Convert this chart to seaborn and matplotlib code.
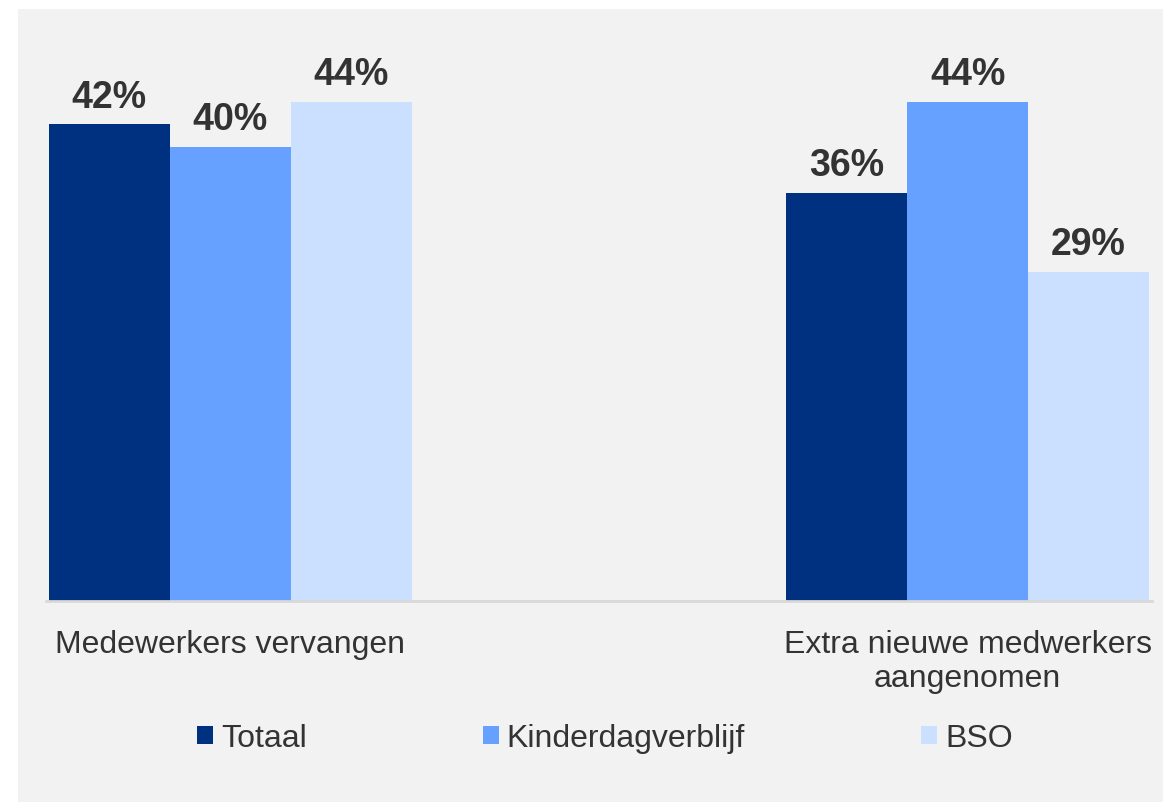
import pandas as pd
import matplotlib.pyplot as plt
import seaborn as sns
from matplotlib.patches import Patch, Rectangle

categories = ["Medewerkers vervangen", "Extra nieuwe medwerkers\naangenomen"]
series = ["Totaal", "Kinderdagverblijf", "BSO"]
totaal = [42, 36]
kinderdagverblijf = [40, 44]
bso = [44, 29]
colors = ["#003080", "#66a1ff", "#cbdfff"]

TEXT = "#333333"
BG = "#f2f2f2"

df = pd.DataFrame({
    "categorie": categories * 3,
    "groep": [s for s in series for _ in categories],
    "waarde": totaal + kinderdagverblijf + bso,
})

sns.set_theme(style="white")
plt.rcParams["font.family"] = ["Liberation Sans", "DejaVu Sans"]

W, H = 1163, 803
fig = plt.figure(figsize=(W / 100, H / 100), dpi=100, facecolor="white")
# grey panel behind the chart
fig.patches.append(Rectangle((18 / W, 0), 1 - 18 / W, 1 - 10 / H,
                             transform=fig.transFigure, facecolor=BG,
                             edgecolor="none", zorder=-5))

ax = fig.add_axes([46 / W, (H - 602) / H, (1152 - 46) / W, (602 - 12) / H])
ax.set_facecolor(BG)

sns.barplot(data=df, x="categorie", y="waarde", hue="groep", hue_order=series,
            palette=colors, width=0.492, gap=0, saturation=1, ax=ax,
            edgecolor="none", linewidth=0, legend=False)

for cont in ax.containers:
    ax.bar_label(cont, labels=[f"{v:.0f}%" for v in cont.datavalues],
                 padding=7, fontsize=27, fontweight="bold", color=TEXT)

ax.set_ylim(0, 52)
ax.set_xlim(-0.25, 1.25)
ax.set_xlabel("")
ax.set_ylabel("")
ax.set_yticks([])
ax.tick_params(axis="x", length=0, pad=20, labelsize=23, labelcolor=TEXT)
for side in ["top", "right", "left"]:
    ax.spines[side].set_visible(False)
ax.spines["bottom"].set_color("#d9d9d9")
ax.spines["bottom"].set_linewidth(2)

handles = [Patch(facecolor=c, edgecolor="none") for c in colors]
fig.legend(handles, series, loc="center", bbox_to_anchor=(605 / W, 1 - 739 / H),
           ncol=3, frameon=False, fontsize=23, labelcolor=TEXT,
           handlelength=0.5, handleheight=0.5, handletextpad=0.25,
           columnspacing=5.5)

fig.savefig("out.png", dpi=100, facecolor=fig.get_facecolor())
